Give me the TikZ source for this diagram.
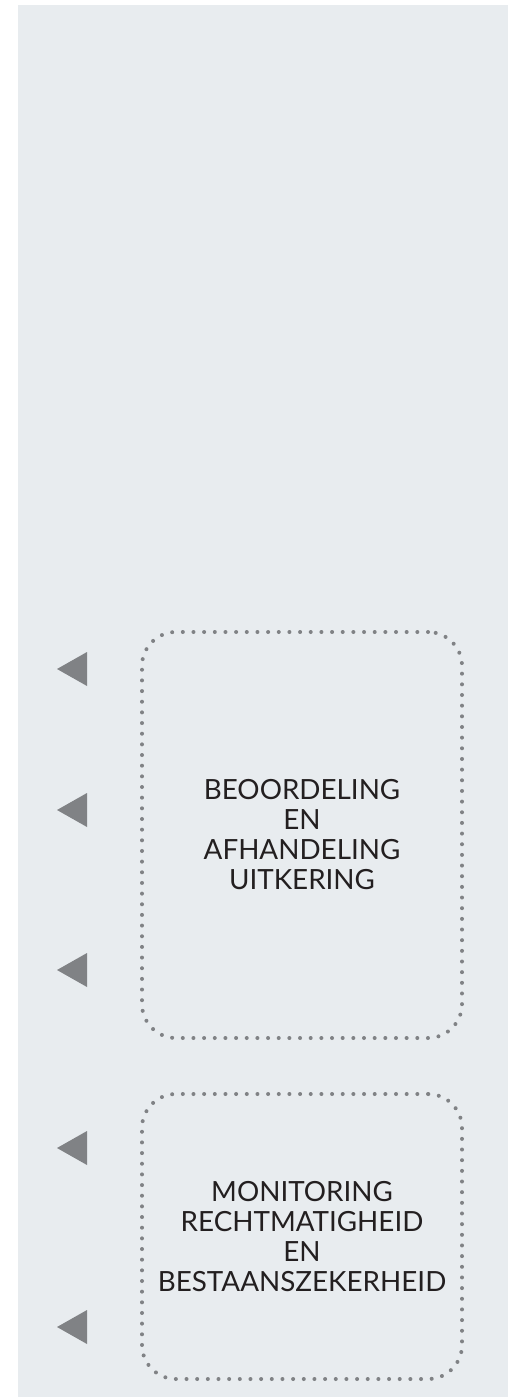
\documentclass[tikz,border=0pt]{standalone}
\usepackage{fontspec}
\setmainfont{Lato}
\usepackage{xcolor}
\definecolor{panelbg}{HTML}{E8ECEF}
\definecolor{dotgray}{HTML}{808285}
\definecolor{textdark}{HTML}{231F20}

\begin{document}
\begin{tikzpicture}[
  x=0.5pt, y=-0.5pt,
  stage/.style={draw=dotgray, line width=2pt, line cap=round,
                dash pattern=on 0pt off 5.33pt, rounded corners=17pt,
                minimum width=160pt, inner sep=0pt, align=center,
                text=textdark, font=\fontsize{13.9}{15}\selectfont},
  marker/.style={fill=dotgray},
]
  % Canvas and panel
  \useasboundingbox (0,0) rectangle (515,1400);
  \fill[panelbg] (18,5) rectangle (508,1397);

  % Stages
  \node[stage, minimum height=203pt] (beoordeling) at (302,835)
    {BEOORDELING\\EN\\AFHANDELING\\UITKERING};
  \node[stage, minimum height=142.5pt] (monitoring) at (302,1236.5)
    {MONITORING\\RECHTMATIGHEID\\EN\\BESTAANSZEKERHEID};

  % Markers
  \foreach \y in {669,810,970,1148,1327}
    \fill[marker] (57,\y) -- (87,\y-17) -- (87,\y+17) -- cycle;
\end{tikzpicture}
\end{document}
